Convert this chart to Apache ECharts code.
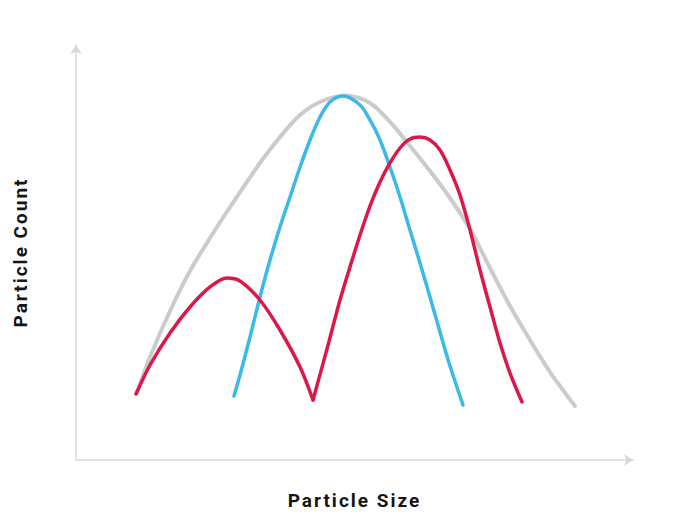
<!DOCTYPE html>
<html>
<head>
<meta charset="utf-8">
<script src="https://cdn.jsdelivr.net/npm/echarts@6/dist/echarts.min.js"></script>
<style>
  html, body { margin: 0; padding: 0; background: #fff; }
  #chart { width: 680px; height: 525px; }
  /* 轴标题字距 */
  #chart svg text { letter-spacing: 2px; }
</style>
</head>
<body>
<div id="chart"></div>
<script>
// 数据：[粒径, 数量]，按图片读数估计
var grayCurve = [
    [10.95, 16.14], [13.29, 24.82], [16.88, 35.90], [20.47, 45.54], [24.06, 53.49],
    [27.65, 60.96], [33.03, 71.57], [36.62, 77.83], [40.22, 83.13], [43.81, 86.27],
    [48.29, 87.83], [52.78, 86.02], [56.37, 81.45], [59.96, 75.66], [63.55, 69.64],
    [67.15, 63.13], [70.74, 55.66], [74.33, 46.27], [77.92, 37.11], [81.51, 28.92],
    [85.10, 21.20], [89.59, 13.01]
];
var blueCurve = [
    [28.37, 15.42], [29.44, 20.48], [31.24, 29.64], [33.03, 39.28], [34.83, 48.19],
    [36.62, 56.14], [38.42, 63.37], [40.22, 70.60], [42.01, 77.11], [43.81, 82.65],
    [45.60, 86.27], [47.94, 87.71], [50.99, 85.54], [52.78, 81.93], [54.58, 77.11],
    [56.37, 70.60], [58.17, 63.37], [59.96, 55.42], [61.76, 47.47], [63.55, 39.28],
    [65.35, 30.84], [67.15, 22.65], [69.48, 13.25]
];
// 红线两段，在最低点相接（尖角）
var redLeft = [
    [10.77, 15.90], [13.29, 22.89], [16.88, 30.60], [20.47, 36.87], [24.06, 41.69],
    [27.11, 43.86], [29.44, 43.13], [33.03, 38.55], [36.62, 31.33], [40.22, 22.41],
    [42.55, 14.46]
];
var redRight = [
    [42.55, 14.46], [45.06, 26.75], [47.40, 38.55], [49.19, 46.51], [50.99, 54.22],
    [52.78, 61.20], [54.58, 66.99], [56.37, 71.57], [58.17, 75.18], [59.96, 77.35],
    [61.76, 77.83], [63.55, 77.11], [65.35, 74.70], [67.15, 69.88], [68.94, 63.86],
    [70.74, 55.42], [72.53, 45.78], [74.33, 36.87], [76.12, 28.19], [77.92, 20.96],
    [80.07, 13.98]
];

var axisColor = '#d9d9d9';
var titleFont = { color: '#151515', fontSize: 19, fontWeight: 'bold', fontFamily: 'Roboto' };

function curve(data, color, width) {
    return {
        type: 'line',
        data: data,
        smooth: 0.32,
        symbol: 'none',
        lineStyle: { color: color, width: width, cap: 'round' },
        silent: true
    };
}

var myChart = echarts.init(document.getElementById('chart'), null, { renderer: 'svg' });
var option = {
    backgroundColor: '#fff',
    animation: false,
    grid: { left: 76, right: 47, top: 45, bottom: 65, outerBoundsMode: 'none' },
    xAxis: {
        type: 'value',
        min: 0,
        max: 100,
        name: 'Particle Size',
        nameLocation: 'middle',
        nameGap: 31,
        nameTextStyle: titleFont,
        axisLine: { show: true, symbol: ['none', 'arrow'], symbolSize: [9, 9], lineStyle: { color: axisColor, width: 1.5 } },
        axisTick: { show: false },
        axisLabel: { show: false },
        splitLine: { show: false }
    },
    yAxis: {
        type: 'value',
        min: 0,
        max: 100,
        name: 'Particle Count',
        nameLocation: 'middle',
        nameGap: 46,
        nameTextStyle: titleFont,
        axisLine: { show: true, symbol: ['none', 'arrow'], symbolSize: [9, 9], lineStyle: { color: axisColor, width: 1.5 } },
        axisTick: { show: false },
        axisLabel: { show: false },
        splitLine: { show: false }
    },
    series: [
        curve(grayCurve, '#cbcbcb', 4),
        curve(blueCurve, '#3bb9e8', 3.5),
        curve(redLeft, '#dc1848', 3.5),
        curve(redRight, '#dc1848', 3.5)
    ]
};
myChart.setOption(option);
</script>
</body>
</html>
